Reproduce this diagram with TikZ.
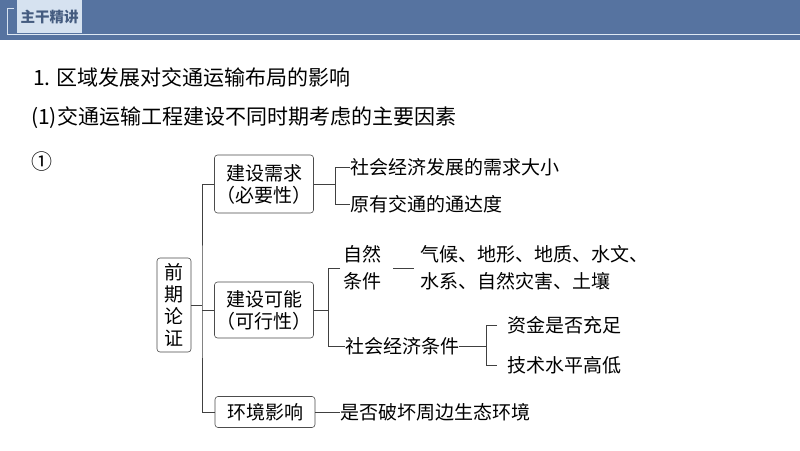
\documentclass[tikz,border=0pt]{standalone}
\usepackage{fontspec}
\setmainfont{Noto Sans CJK SC}
\newfontfamily\cjk{Noto Sans CJK SC}
\definecolor{band}{HTML}{5673A0}
\definecolor{tab}{HTML}{D6E2F0}
\begin{document}
\begin{tikzpicture}[x=1pt,y=-1pt,
  bx/.style={draw=black!70,rounded corners=3pt,line width=0.6pt,inner sep=2pt,font=\fontsize{19}{22}\selectfont,align=center},
  tx/.style={anchor=west,inner sep=0pt,font=\fontsize{19}{22}\selectfont},
  ln/.style={draw=black!75,line width=0.6pt}]
\useasboundingbox (0,0) rectangle (800,450);
\fill[white] (0,0) rectangle (800,450);
\fill[band] (0,0) rectangle (800,40);
\draw[tab!80!white,line width=1pt] (7,34) -- (800,34);
\draw[tab,line width=1pt] (14,8) -- (7,8) -- (7,34);
\fill[tab] (17,0) rectangle (82,33);
\node[font=\bfseries\fontsize{14.5}{17}\selectfont,text=band!80!black,inner sep=0pt] (hdr) at (49.5,17) {主干精讲};
\node[tx,font=\fontsize{21}{24}\selectfont] (t1) at (33,77) {1. 区域发展对交通运输布局的影响};
\node[tx,font=\fontsize{21}{24}\selectfont] (t2) at (31,118) {(1)交通运输工程建设不同时期考虑的主要因素};
\node[tx,font=\fontsize{21}{24}\selectfont] (t3) at (31,162) {①};
\node[bx,minimum width=34pt,minimum height=94pt,text width=20pt,font=\fontsize{19}{22}\selectfont] (q) at (174,305) {前\\期\\论\\证};
\node[bx,minimum width=98pt,minimum height=58pt] (a) at (264,184) {建设需求\\（必要性）};
\node[bx,minimum width=98pt,minimum height=56pt] (b) at (264,310) {建设可能\\（可行性）};
\node[bx,minimum width=100pt,minimum height=31pt] (c) at (265,412) {环境影响};
\coordinate (tr) at (202,305);
\draw[ln] (q.east) -- (tr);
\draw[ln] (a.west) -| (tr) |- (c.west);
\draw[ln] (b.west) -- (b.west -| tr);
% branch a
\node[tx] (a1) at (350,167) {社会经济发展的需求大小};
\node[tx] (a2) at (350,204) {原有交通的通达度};
\draw[ln] (a.east) -- (335,184);
\draw[ln] (a1.west) -- (335,167) -- (335,204) -- (a2.west);
% branch b
\node[tx,align=left,font=\fontsize{19}{27}\selectfont] (b1) at (343,268) {自然\\条件};
\node[tx,align=left,font=\fontsize{19}{27}\selectfont] (b1t) at (420,268) {气候、地形、地质、水文、\\水系、自然灾害、土壤};
\draw[ln] (393,268) -- (414,268);
\node[tx] (b2) at (345,346) {社会经济条件};
\draw[ln] (b.east) -- (328,310);
\draw[ln] (340,268) -- (328,268) -- (328,346) -- (b2.west);
\node[tx] (b21) at (507,325) {资金是否充足};
\node[tx] (b22) at (507,365) {技术水平高低};
\coordinate (b2e) at (b2.east);
\draw[ln] (b2e) -- (486,346);
\draw[ln] (497,325) -- (486,325) -- (486,365) -- (497,365);
% branch c
\node[tx] (c1) at (340,412) {是否破坏周边生态环境};
\draw[ln] (c.east) -- (c1.west);
\end{tikzpicture}
\end{document}
